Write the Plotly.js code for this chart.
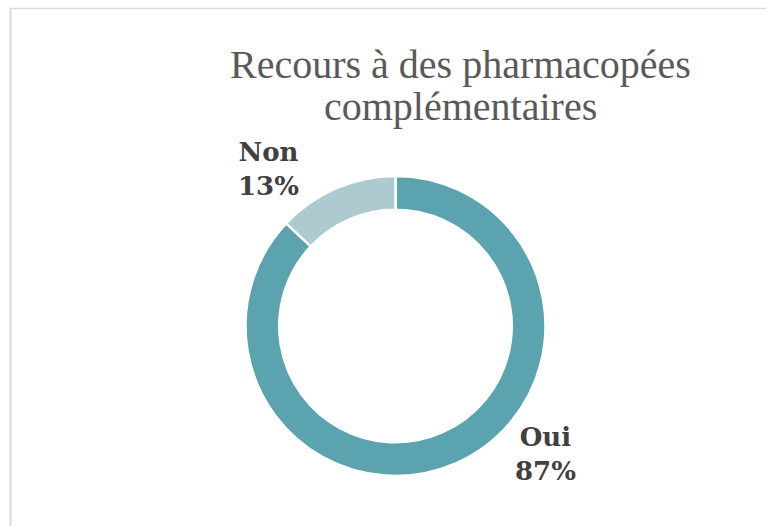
<!DOCTYPE html>
<html>
<head>
<meta charset="utf-8">
<script src="https://cdn.plot.ly/plotly-3.0.1.min.js"></script>
<style>html,body{margin:0;padding:0;background:#fff;}#chart{width:766px;height:526px;}</style>
</head>
<body>
<div id="chart"></div>
<script>
var categories = ["Oui", "Non"];
var values = [87, 13];
var colors = ["#5BA3AF", "#AECAD1"];
var titleLines = ["Recours à des pharmacopées", "complémentaires"];

var W = 766, H = 526;
var total = values.reduce(function(a,b){return a+b;}, 0);
var labelPos = [[545, 454], [268, 169]];
var annotations = categories.map(function(c, i){
  var pct = Math.round(100 * values[i] / total);
  return {
    text: "<b>" + c + "</b><br><b>" + pct + "%</b>",
    x: labelPos[i][0] / W, y: 1 - labelPos[i][1] / H,
    xref: "paper", yref: "paper", showarrow: false,
    xanchor: "center", yanchor: "middle",
    font: {family: "DejaVu Serif", size: 26, color: "#404040"}
  };
});
var titleY = [64, 106];
titleLines.forEach(function(t, i){
  annotations.push({
    text: t, x: 460 / W, y: 1 - titleY[i] / H,
    xref: "paper", yref: "paper", showarrow: false,
    xanchor: "center", yanchor: "middle",
    font: {family: "Liberation Serif", size: 40, color: "#595959"}
  });
});

var cx = 395.5, cy = 326, r = 150;
var data = [{
  type: "pie",
  labels: categories,
  values: values,
  hole: 0.775,
  sort: false,
  direction: "clockwise",
  rotation: 0,
  textinfo: "none",
  hoverinfo: "label+percent",
  marker: {colors: colors, line: {color: "#ffffff", width: 2.5}},
  domain: {x: [(cx - r) / W, (cx + r) / W], y: [1 - (cy + r) / H, 1 - (cy - r) / H]}
}];

var layout = {
  width: W, height: H,
  margin: {l: 0, r: 0, t: 0, b: 0},
  paper_bgcolor: "#ffffff",
  showlegend: false,
  annotations: annotations,
  shapes: [
    {type: "line", xref: "paper", yref: "paper", x0: 10 / W, x1: 1, y0: 1 - 8.5 / H, y1: 1 - 8.5 / H, line: {color: "#d9d9d9", width: 1.5}},
    {type: "line", xref: "paper", yref: "paper", x0: 10.5 / W, x1: 10.5 / W, y0: 0, y1: 1 - 8 / H, line: {color: "#d9d9d9", width: 2}}
  ]
};

Plotly.newPlot("chart", data, layout, {displayModeBar: false, staticPlot: true});
</script>
</body>
</html>
